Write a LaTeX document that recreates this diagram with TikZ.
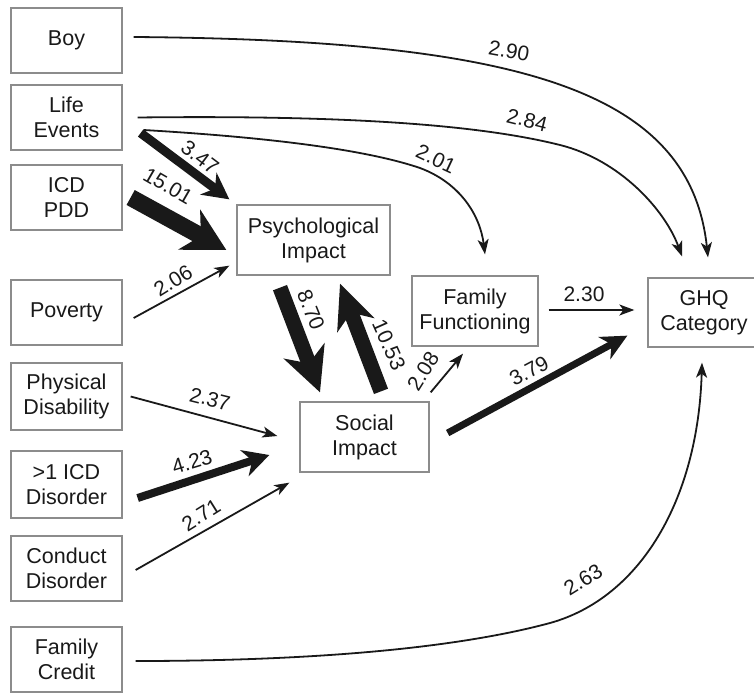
\documentclass[tikz,border=0pt]{standalone}
\usepackage{fontspec}
\setmainfont{Liberation Sans}
\usetikzlibrary{arrows.meta}
\definecolor{boxgray}{RGB}{140,140,140}
\definecolor{ink}{RGB}{25,25,25}
\begin{document}
\begin{tikzpicture}[x=1pt,y=-1pt,
 box/.style={draw=boxgray, line width=1.3pt, align=center, inner sep=0pt,
   font=\fontsize{21.5}{25}\selectfont, text=ink},
 lbox/.style={box, minimum width=111pt, minimum height=65pt},
 lbl/.style={font=\fontsize{21}{24}\selectfont, text=ink, inner sep=0pt},
 thin/.style={line width=1.8pt, draw=ink, -{Stealth[length=15pt,width=11pt,inset=4pt]}},
 thick/.style={draw=ink, line width=#1},
]
\useasboundingbox (0,0) rectangle (754,693);

% left column
\node[lbox] (boy)  at (66.5,40.5)  {Boy};
\node[lbox] (life) at (66.5,117.5) {Life\\Events};
\node[lbox] (icd)  at (66.5,197.5) {ICD\\PDD};
\node[lbox] (pov)  at (66.5,312.5) {Poverty};
\node[lbox, minimum height=67pt] (phys) at (66.5,396.5) {Physical\\Disability};
\node[lbox, minimum height=67pt] (gt1)  at (66.5,484.5) {>1 ICD\\Disorder};
\node[lbox] (cond) at (66.5,568.5) {Conduct\\Disorder};
\node[lbox] (fc)   at (66.5,659.5) {Family\\Credit};

% middle / right
\node[box, minimum width=153pt, minimum height=70pt] (psych) at (313.5,240) {Psychological\\Impact};
\node[box, minimum width=126pt, minimum height=70pt] (ff) at (475,311) {Family\\Functioning};
\node[box, minimum width=112pt, minimum height=69pt] (ghq) at (704,312.5) {GHQ\\Category};
\node[box, minimum width=129pt, minimum height=70pt] (social) at (364.5,437) {Social\\Impact};

% curved connectors to GHQ / FF
\draw[thin] ([xshift=11pt,yshift=3.5pt]boy.east) .. controls (520,40) and (690,90) .. ([xshift=4pt,yshift=20pt]ghq.north);
\draw[thin] ([xshift=15pt]life.east) .. controls (350,115) and (480,125) .. (560,145)
   .. controls (620,160) and (665,210) .. ([xshift=-22pt,yshift=21pt]ghq.north);
\draw[thin] ([xshift=21pt,yshift=-12.5pt]life.east) .. controls (280,138) and (370,151) .. (420,168)
   .. controls (460,183) and (480,215) .. ([xshift=10pt,yshift=21pt]ff.north);
\draw[thin] ([xshift=13pt,yshift=-1.5pt]fc.east) .. controls (300,661) and (450,650) .. (550,623)
   .. controls (640,598) and (698,500) .. ([xshift=-2pt,yshift=-15pt]ghq.south);

% thick arrows into Psychological Impact
\draw[thick=9pt, -{Stealth[length=26pt,width=27pt,inset=8pt]}]
   ([xshift=18pt,yshift=-15.5pt]life.east) -- ([xshift=-7pt,yshift=5pt]psych.north west);
\draw[thick=17pt, -{Stealth[length=42pt,width=45pt,inset=13pt]}]
   ([xshift=8pt]icd.east) -- ([xshift=-10pt,yshift=-10pt]psych.west);
\draw[thin] ([xshift=11pt,yshift=-5.5pt]pov.east) -- ([xshift=-7pt,yshift=10pt]psych.south west);

% psych <-> social
\draw[thick=15pt, -{Stealth[length=44pt,width=43pt,inset=13pt]}]
   ([xshift=-33.5pt,yshift=-12pt]psych.south) -- ([xshift=-44.5pt,yshift=9pt]social.north);
\draw[thick=15pt, -{Stealth[length=44pt,width=39pt,inset=13pt]}]
   ([xshift=16.5pt,yshift=10pt]social.north) -- ([xshift=26.5pt,yshift=-8pt]psych.south);

% into social
\draw[thin] ([xshift=8pt]phys.east) -- ([xshift=-22pt,yshift=1pt]social.west);
\draw[thick=8pt, -{Stealth[length=26pt,width=27pt,inset=8pt]}]
   ([xshift=15pt,yshift=-13.5pt]gt1.east) -- ([xshift=-30pt,yshift=-18pt]social.west);
\draw[thin] ([xshift=13pt,yshift=-1.5pt]cond.east) -- ([xshift=-10pt,yshift=-10pt]social.south west);

% out of social / ff
\draw[thin] ([xshift=1pt,yshift=9pt]social.north east) -- ([xshift=-12pt,yshift=-7pt]ff.south);
\draw[thin] ([xshift=10pt,yshift=1pt]ff.east) -- ([xshift=-13pt,yshift=2.5pt]ghq.west);
\draw[thick=7pt, -{Stealth[length=26pt,width=25pt,inset=8pt]}]
   ([xshift=18pt,yshift=4pt]social.east) -- ([xshift=-20pt,yshift=12pt]ghq.south west);

% labels
\node[lbl, rotate=-10] (l290) at (509,51) {2.90};
\node[lbl, rotate=-14] (l284) at (527,120) {2.84};
\node[lbl, rotate=-25] (l201) at (436,159) {2.01};
\node[lbl, rotate=-37] (l347) at (200,157) {3.47};
\node[lbl, rotate=-30] (l1501) at (168,186) {15.01};
\node[lbl, rotate=32] (l206) at (173,281) {2.06};
\node[lbl, rotate=-68] (l870) at (311,310) {8.70};
\node[lbl, rotate=-66] (l1053) at (389,345) {10.53};
\node[lbl, rotate=58] (l208) at (423,371) {2.08};
\node[lbl] (l230) at (584,294) {2.30};
\node[lbl, rotate=28] (l379) at (529,371) {3.79};
\node[lbl, rotate=-14] (l237) at (210,399) {2.37};
\node[lbl, rotate=17] (l423) at (192,462) {4.23};
\node[lbl, rotate=32] (l271) at (201,515) {2.71};
\node[lbl, rotate=32] (l263) at (583,580) {2.63};
\end{tikzpicture}
\end{document}
